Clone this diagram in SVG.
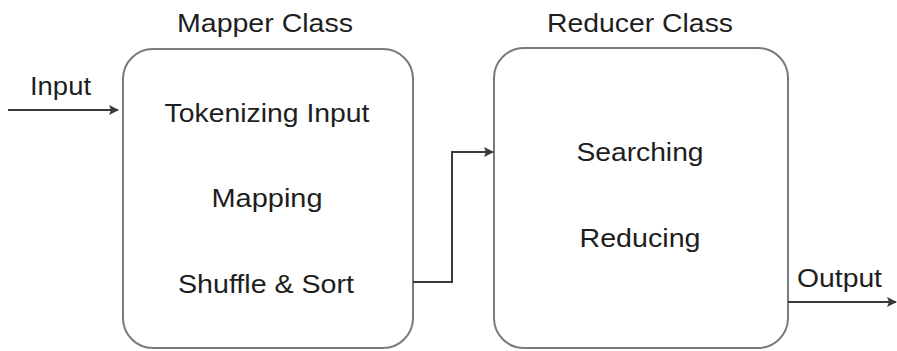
<svg xmlns="http://www.w3.org/2000/svg" width="897" height="351" viewBox="0 0 897 351">
<defs>
<style>
.box{fill:#fff;stroke:#7a7a7a;stroke-width:2}
.t{font-family:"Liberation Sans",Arial,Helvetica,sans-serif;font-size:26px;fill:#1e1e1e;text-anchor:middle}
.tl{font-family:"Liberation Sans",Arial,Helvetica,sans-serif;font-size:26px;fill:#1e1e1e}
.c{fill:none;stroke:#3a3a3a;stroke-width:2}
</style>
<marker id="ah" viewBox="0 0 10 10" refX="9" refY="5" markerWidth="11" markerHeight="10" markerUnits="userSpaceOnUse" orient="auto">
<path d="M0,0 L10,5 L0,10 L2,5 z" fill="#3a3a3a"/>
</marker>
</defs>
<rect width="897" height="351" fill="#fff"/>
<g id="mapper">
<rect class="box" x="123" y="49" width="290" height="299" rx="30" ry="30"/>
<text class="t" x="265" y="32" textLength="176" lengthAdjust="spacingAndGlyphs">Mapper Class</text>
<text class="t" x="267" y="122" textLength="205" lengthAdjust="spacingAndGlyphs">Tokenizing Input</text>
<text class="t" x="267" y="207" textLength="111" lengthAdjust="spacingAndGlyphs">Mapping</text>
<text class="t" x="266" y="293" textLength="176" lengthAdjust="spacingAndGlyphs">Shuffle &amp; Sort</text>
</g>
<g id="reducer">
<rect class="box" x="494" y="48" width="294" height="300" rx="30" ry="30"/>
<text class="t" x="640" y="32" textLength="186" lengthAdjust="spacingAndGlyphs">Reducer Class</text>
<text class="t" x="640" y="161" textLength="127" lengthAdjust="spacingAndGlyphs">Searching</text>
<text class="t" x="640" y="247" textLength="121" lengthAdjust="spacingAndGlyphs">Reducing</text>
</g>
<g id="connectors">
<path class="c" d="M8,110 L118,110" marker-end="url(#ah)"/>
<path class="c" d="M413,282 L452,282 L452,152 L493,152" marker-end="url(#ah)"/>
<path class="c" d="M788,302 L896,302" marker-end="url(#ah)"/>
<text class="tl" x="30" y="95" textLength="61" lengthAdjust="spacingAndGlyphs">Input</text>
<text class="tl" x="797" y="287" textLength="85" lengthAdjust="spacingAndGlyphs">Output</text>
</g>
</svg>
